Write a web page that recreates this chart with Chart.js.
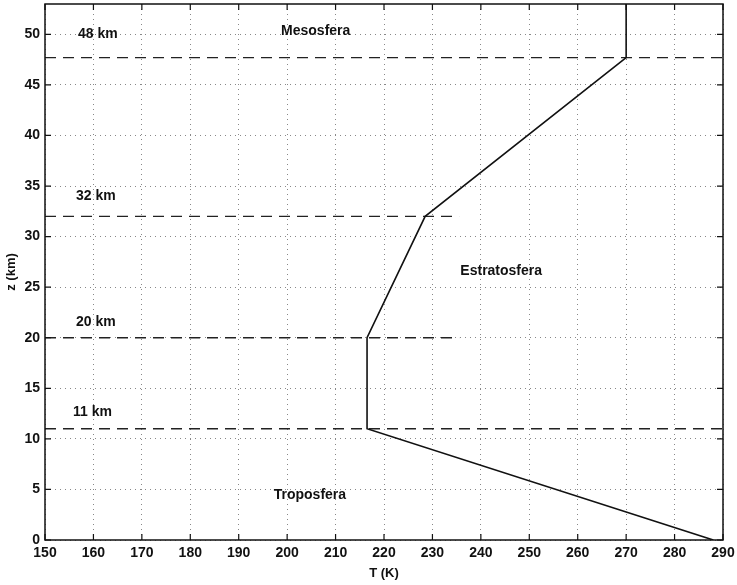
<!DOCTYPE html>
<html lang="es">
<head>
<meta charset="UTF-8">
<title>Perfil de temperatura</title>
<script src="https://cdn.jsdelivr.net/npm/chart.js"></script>
<style>
  html, body { margin: 0; padding: 0; background: #fff; }
  #wrap { width: 737px; height: 585px; }
</style>
</head>
<body>
<div id="wrap"><canvas id="chart"></canvas></div>
<script>
// temperature profile (T in K, z in km)
const profileT = [288, 216.5, 216.5, 228.5, 270, 270];
const profileZ = [0, 11, 20, 32, 47.7, 53];

// dashed layer boundaries
const layerZ = [11, 20, 32, 47.7];
const layerStartT = [150, 150, 150, 150];
const layerEndT = [290, 235.5, 235.5, 290];

// text annotations
const noteText = ['48 km', '32 km', '20 km', '11 km', 'Mesosfera', 'Estratosfera', 'Troposfera'];
const noteT = [156.8, 156.4, 156.4, 155.8, 205.9, 244.2, 204.7];
const noteZ = [50, 34, 21.5, 12.6, 50.3, 26.6, 4.4];
const noteAlign = ['left', 'left', 'left', 'left', 'center', 'center', 'center'];

const xTicks = [150, 160, 170, 180, 190, 200, 210, 220, 230, 240, 250, 260, 270, 280, 290];
const yTicks = [0, 5, 10, 15, 20, 25, 30, 35, 40, 45, 50];

const FONT = 'Arial, "Liberation Sans", sans-serif';

const datasets = [{
  data: profileT.map((t, i) => ({ x: t, y: profileZ[i] })),
  borderColor: '#111',
  borderWidth: 1.6,
  pointRadius: 0,
  fill: false
}];
layerZ.forEach((z, i) => {
  datasets.push({
    data: [{ x: layerStartT[i], y: z }, { x: layerEndT[i], y: z }],
    borderColor: '#222',
    borderWidth: 1.4,
    borderDash: [11, 7],
    pointRadius: 0,
    fill: false
  });
});

const boxPlugin = {
  id: 'box',
  afterDraw(chart) {
    const { ctx, chartArea: a, scales } = chart;
    ctx.save();
    ctx.strokeStyle = '#111';
    ctx.lineWidth = 1.5;
    ctx.strokeRect(a.left, a.top, a.right - a.left, a.bottom - a.top);
    ctx.lineWidth = 1.2;
    const len = 6;
    ctx.beginPath();
    xTicks.forEach(v => {
      const px = scales.x.getPixelForValue(v);
      ctx.moveTo(px, a.bottom); ctx.lineTo(px, a.bottom - len);
      ctx.moveTo(px, a.top); ctx.lineTo(px, a.top + len);
    });
    yTicks.forEach(v => {
      const py = scales.y.getPixelForValue(v);
      ctx.moveTo(a.left, py); ctx.lineTo(a.left + len, py);
      ctx.moveTo(a.right, py); ctx.lineTo(a.right - len, py);
    });
    ctx.stroke();
    // annotations
    ctx.fillStyle = '#111';
    ctx.font = 'bold 14px ' + FONT;
    ctx.textBaseline = 'middle';
    noteText.forEach((s, i) => {
      ctx.textAlign = noteAlign[i];
      ctx.fillText(s, scales.x.getPixelForValue(noteT[i]), scales.y.getPixelForValue(noteZ[i]));
    });
    ctx.restore();
  }
};

new Chart(document.getElementById('chart'), {
  type: 'line',
  data: { datasets },
  plugins: [boxPlugin],
  options: {
    responsive: true,
    maintainAspectRatio: false,
    animation: false,
    layout: { padding: { top: 4, right: 14, left: 0, bottom: 0 } },
    plugins: { legend: { display: false }, tooltip: { enabled: false } },
    scales: {
      x: {
        type: 'linear',
        min: 150, max: 290,
        afterBuildTicks: s => { s.ticks = xTicks.map(v => ({ value: v })); },
        afterFit: s => { s.height = 45; s.paddingLeft = 0; s.paddingRight = 0; },
        grid: { color: '#888', lineWidth: 1, drawTicks: false },
        border: { display: false, dash: [1, 4] },
        ticks: { color: '#111', padding: 5, font: { family: FONT, size: 14, weight: 'bold' }, maxRotation: 0 },
        title: { display: true, text: 'T (K)', color: '#111', padding: { top: 0 }, font: { family: FONT, size: 13, weight: 'bold' } }
      },
      y: {
        type: 'linear',
        min: 0, max: 53,
        afterBuildTicks: s => { s.ticks = yTicks.map(v => ({ value: v })); },
        afterFit: s => { s.width = 45; s.paddingTop = 0; s.paddingBottom = 0; },
        grid: { color: '#888', lineWidth: 1, drawTicks: false },
        border: { display: false, dash: [1, 4] },
        ticks: { color: '#111', padding: 5, font: { family: FONT, size: 14, weight: 'bold' } },
        title: { display: true, text: 'z (km)', color: '#111', padding: { bottom: 0 }, font: { family: FONT, size: 13, weight: 'bold' } }
      }
    }
  }
});
</script>
</body>
</html>
